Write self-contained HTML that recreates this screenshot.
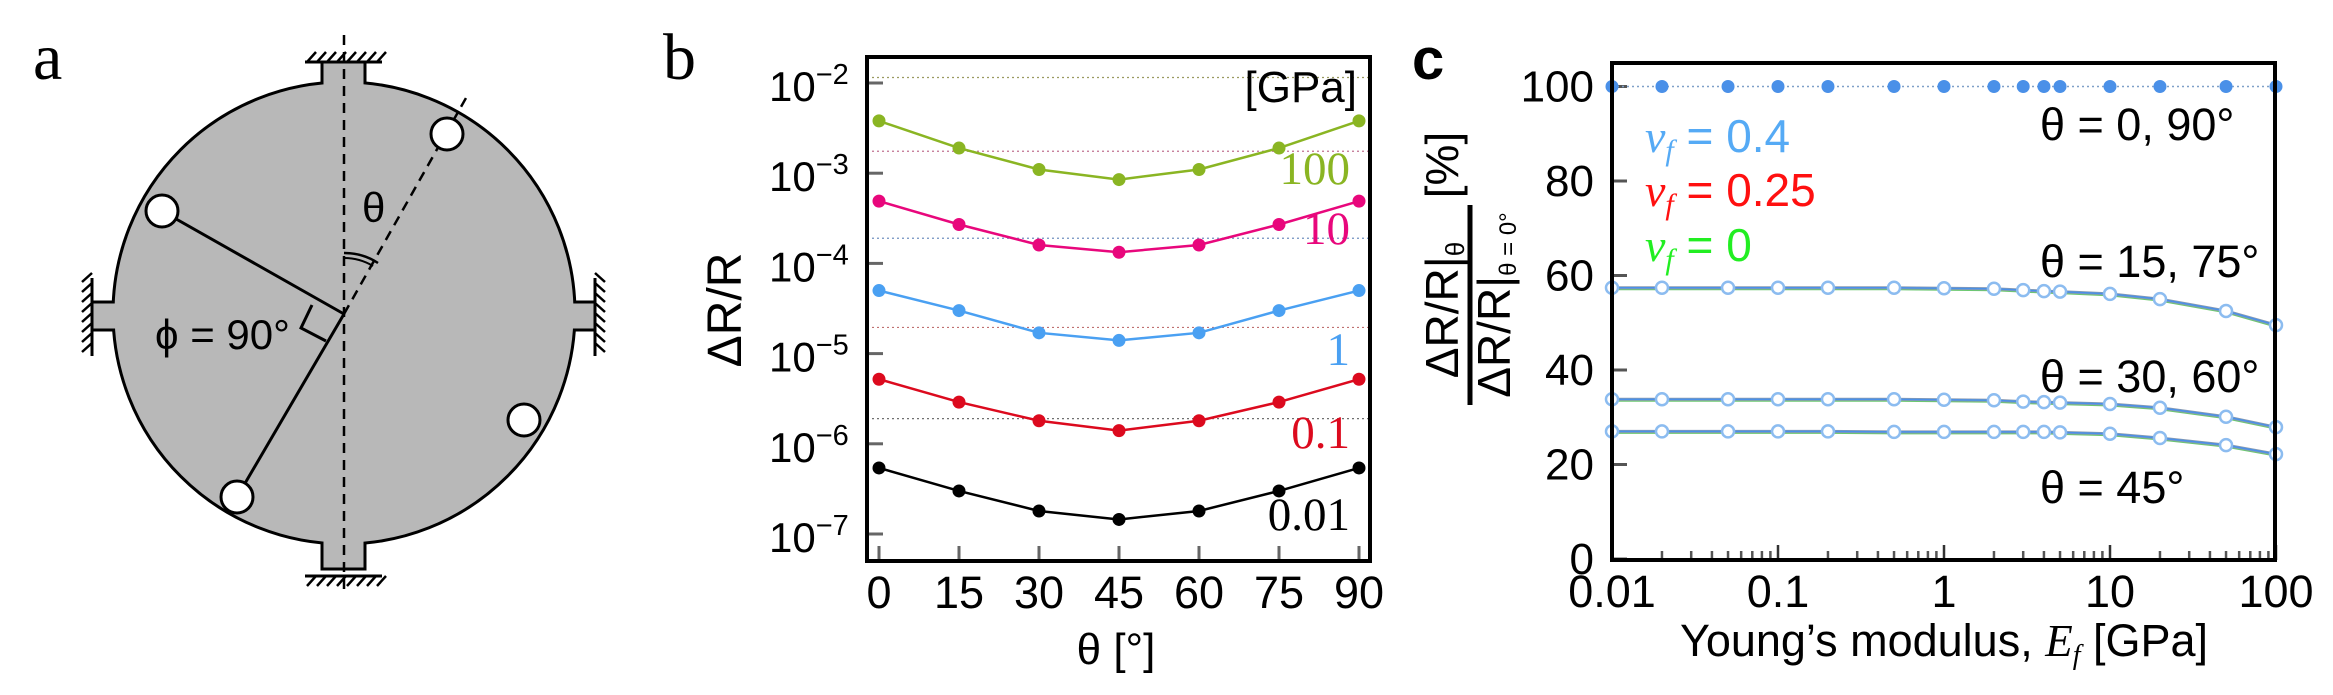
<!DOCTYPE html>
<html><head><meta charset="utf-8"><style>
html,body{margin:0;padding:0;background:#fff;}
svg{display:block;}
text{font-family:"Liberation Sans",sans-serif;}
.serif{font-family:"Liberation Serif",serif;}
</style></head><body>
<svg id="fig" width="2333" height="695" viewBox="0 0 2333 695" xmlns="http://www.w3.org/2000/svg">
<!-- Panel a -->
<g>
  <text x="33" y="79" class="serif" font-size="66">a</text>
  <rect x="322" y="62" width="43" height="40" fill="#b8b8b8" stroke="#000" stroke-width="3"/>
  <rect x="322" y="525" width="43" height="44" fill="#b8b8b8" stroke="#000" stroke-width="3"/>
  <rect x="92" y="302" width="40" height="28" fill="#b8b8b8" stroke="#000" stroke-width="3"/>
  <rect x="555" y="302" width="40" height="28" fill="#b8b8b8" stroke="#000" stroke-width="3"/>
  <circle cx="344" cy="313" r="231" fill="#b8b8b8" stroke="#000" stroke-width="3"/>
  <rect x="323.5" y="75" width="40" height="40" fill="#b8b8b8"/>
  <rect x="323.5" y="515" width="40" height="52.5" fill="#b8b8b8"/>
  <rect x="93.5" y="303.5" width="45" height="25" fill="#b8b8b8"/>
  <rect x="550" y="303.5" width="43.5" height="25" fill="#b8b8b8"/>
  <g id="hatches" stroke="#000" stroke-width="3"></g>
  <line x1="344" y1="35" x2="344" y2="595" stroke="#000" stroke-width="2.5" stroke-dasharray="10,7"/>
  <line x1="344" y1="314" x2="466" y2="98" stroke="#000" stroke-width="2.5" stroke-dasharray="10,7"/>
  <line x1="162" y1="211" x2="344" y2="314" stroke="#000" stroke-width="3"/>
  <line x1="237" y1="497" x2="344" y2="314" stroke="#000" stroke-width="3"/>
  <polyline points="312,305 301,328 326,341" fill="none" stroke="#000" stroke-width="3"/>
  <path d="M344,253 A61,61 0 0 1 378,263" fill="none" stroke="#000" stroke-width="2.5"/>
  <path d="M344,258 A56,56 0 0 1 373,266" fill="none" stroke="#000" stroke-width="2"/>
  <circle cx="162" cy="211" r="16" fill="#fff" stroke="#000" stroke-width="3"/>
  <circle cx="447" cy="134" r="16" fill="#fff" stroke="#000" stroke-width="3"/>
  <circle cx="237" cy="497" r="16" fill="#fff" stroke="#000" stroke-width="3"/>
  <circle cx="524" cy="420" r="16" fill="#fff" stroke="#000" stroke-width="3"/>
  <text x="362" y="222" font-size="42">θ</text>
  <text x="155" y="349" font-size="42">ϕ = 90°</text>
</g>
<!-- Panel b -->
<g id="pb">
  <text x="663" y="79" class="serif" font-size="66">b</text>
</g>
<!-- Panel c -->
<g id="pc">
  <text x="1412" y="79" font-size="58" font-weight="bold">c</text>
</g>
</svg>
<script>
var NS="http://www.w3.org/2000/svg";
// ---------- Panel b data ----------
var bAngles=[0,15,30,45,60,75,90];
var bYTicks=[-2,-3,-4,-5,-6,-7];
var bSeriesNames=["100","10","1","0.1","0.01"];
var bColors=["#8ab523","#e8077c","#4aa0f2","#dc0a1e","#000000"];
var b100=[3.8e-3,1.9e-3,1.1e-3,8.5e-4,1.1e-3,1.9e-3,3.8e-3];
var b10=[4.9e-4,2.7e-4,1.6e-4,1.33e-4,1.6e-4,2.7e-4,4.9e-4];
var b1=[5.0e-5,3.0e-5,1.7e-5,1.4e-5,1.7e-5,3.0e-5,5.0e-5];
var b01=[5.2e-6,2.9e-6,1.8e-6,1.4e-6,1.8e-6,2.9e-6,5.2e-6];
var b001=[5.4e-7,3.0e-7,1.8e-7,1.45e-7,1.8e-7,3.0e-7,5.4e-7];
var bGridLevels=[1.15e-2,1.75e-3,1.9e-4,1.95e-5,1.9e-6];
var bGridColors=["#9a9a60","#c07090","#7090c0","#c07070","#707070"];
// ---------- Panel c data ----------
var cE=[0.01,0.02,0.05,0.1,0.2,0.5,1,2,3,4,5,10,20,50,100];
var cXTicks=[0.01,0.1,1,10,100];
var cXTickLabels=["0.01","0.1","1","10","100"];
var cYTicks=[0,20,40,60,80,100];
var c0_90=[100,100,100,100,100,100,100,100,100,100,100,100,100,100,100];
var c15_75=[57.4,57.4,57.4,57.4,57.4,57.4,57.3,57.2,56.9,56.7,56.6,56.1,55.0,52.5,49.5];
var c30_60=[33.8,33.8,33.8,33.8,33.8,33.8,33.7,33.6,33.3,33.2,33.1,32.8,32.0,30.1,27.9];
var c45=[27.0,27.0,27.0,27.0,27.0,26.9,26.9,26.9,26.9,26.9,26.8,26.5,25.6,24.1,22.2];

function mk(parent,tag,attrs,txt){var e=document.createElementNS(NS,tag);for(var k in attrs)e.setAttribute(k,attrs[k]);if(txt!==undefined)e.textContent=txt;parent.appendChild(e);return e;}

// hatches panel a
var h=document.getElementById('hatches');
var hl;
hl=mk(h,'line',{x1:305,y1:62,x2:382,y2:62});
hl=mk(h,'line',{x1:305,y1:576,x2:382,y2:576});
hl=mk(h,'line',{x1:92,y1:278,x2:92,y2:356});
hl=mk(h,'line',{x1:595,y1:278,x2:595,y2:356});
mk(h,'line',{x1:323.5,y1:569,x2:363.5,y2:569,stroke:'#000'});
for(var i=0;i<8;i++){
  var x=307+i*10;
  mk(h,'line',{x1:x,y1:62,x2:x+9,y2:52,'stroke-width':2.5});
  mk(h,'line',{x1:x,y1:586,x2:x+9,y2:576,'stroke-width':2.5});
  var y=282+i*10;
  mk(h,'line',{x1:82,y1:y,x2:92,y2:y-9,'stroke-width':2.5});
  mk(h,'line',{x1:595,y1:y-9,x2:605,y2:y,'stroke-width':2.5});
}

// ---------- Panel b ----------
(function(){
  var g=document.getElementById('pb');
  var L=867,R=1370,T=57,B=561;
  function xs(a){return 879+(a-0)*(1359-879)/90;}
  function ys(v){return 83+(-2-Math.log10(v))*90.2;}
  bGridLevels.forEach(function(v,i){
    var l=mk(g,'line',{x1:L,x2:R,y1:ys(v),y2:ys(v),stroke:bGridColors[i],'stroke-width':1.2,'stroke-dasharray':'2,3'});
    
    
  });
  bYTicks.forEach(function(p){
    var y=83+(-2-p)*90.2;
    var t=mk(g,'line',{x1:L,x2:L+16,y1:y,y2:y,stroke:'#666','stroke-width':3});
    
    
    var tx=mk(g,'text',{x:769,y:y+18,'font-size':42});
    
    
    mk(tx,'tspan',{},'10');
    mk(tx,'tspan',{dy:-17,'font-size':29},'−'+(-p));
  });
  bAngles.forEach(function(a){
    var t=mk(g,'line',{x1:xs(a),x2:xs(a),y1:B,y2:B-15,stroke:'#666','stroke-width':3});
    
    
    var tx=mk(g,'text',{x:xs(a),y:608,'font-size':45,'text-anchor':'middle'},String(a));
    
    
  });
  var series=[b100,b10,b1,b01,b001];
  series.forEach(function(s,si){
    var pts=s.map(function(v,i){return xs(bAngles[i])+','+ys(v);}).join(' ');
    var pl=mk(g,'polyline',{points:pts,fill:'none',stroke:bColors[si],'stroke-width':2.5});
    
    
    s.forEach(function(v,i){
      var c=mk(g,'circle',{cx:xs(bAngles[i]),cy:ys(v),r:6.5,fill:bColors[si]});
      
      
    });
  });
  var lblY=[184,244,365,448,530];
  bSeriesNames.forEach(function(n,i){
    var t=mk(g,'text',{x:1350,y:lblY[i],'font-size':47,'text-anchor':'end',fill:bColors[i],'class':'serif'},n);
    
    
  });
  var u=mk(g,'text',{x:1357,y:102,'font-size':44,'text-anchor':'end'},'[GPa]');
  
  
  var fr=mk(g,'rect',{x:L,y:T,width:R-L,height:B-T,fill:'none',stroke:'#000','stroke-width':4});
  
  
  var yt=mk(g,'text',{x:0,y:0,'font-size':48,'text-anchor':'middle',transform:'translate(741,310) rotate(-90)'},'ΔR/R');
  
  
  var xt=mk(g,'text',{x:1116,y:664,'font-size':44,'text-anchor':'middle'},'θ [°]');
  
  
})();

// ---------- Panel c ----------
(function(){
  var g=document.getElementById('pc');
  var L=1612,R=2275,T=63,B=560;
  function xs(e){return L+(Math.log10(e)+2)*166;}
  function ys(v){return 559-v*4.725;}
  cYTicks.forEach(function(v){
    var t=mk(g,'line',{x1:L,x2:L+15,y1:ys(v),y2:ys(v),stroke:'#555','stroke-width':3});
    
    
    var tx=mk(g,'text',{x:1594,y:ys(v)+15,'font-size':44,'text-anchor':'end'},String(v));
    
    
  });
  for(var d=-2;d<2;d++){for(var m=2;m<10;m++){
    var x=xs(m*Math.pow(10,d));
    var t=mk(g,'line',{x1:x,x2:x,y1:B,y2:B-9,stroke:'#555','stroke-width':2.5});
    
    
  }}
  cXTicks.forEach(function(e,i){
    var t=mk(g,'line',{x1:xs(e),x2:xs(e),y1:B,y2:B-15,stroke:'#333','stroke-width':2.5});
    
    
    var tx=mk(g,'text',{x:xs(e),y:607,'font-size':45,'text-anchor':'middle'},cXTickLabels[i]);
    
    
  });
  var pts=c0_90.map(function(v,i){return xs(cE[i])+','+ys(v);}).join(' ');
  var pl=mk(g,'polyline',{points:pts,fill:'none',stroke:'#7fa0c8','stroke-width':1.5,'stroke-dasharray':'2,3'});
  
  
  c0_90.forEach(function(v,i){
    var c=mk(g,'circle',{cx:xs(cE[i]),cy:ys(v),r:6.5,fill:'#4a90e8'});
    
    
  });
  [c15_75,c30_60,c45].forEach(function(s,si){
    var nm=['c-line-theta-15-75','c-line-theta-30-60','c-line-theta-45'][si];
    var p=s.map(function(v,i){return xs(cE[i])+','+(ys(v)+1.5);}).join(' ');
    var gl=mk(g,'polyline',{points:p,fill:'none',stroke:'#6cc870','stroke-width':2});
    
    
    var p2=s.map(function(v,i){return xs(cE[i])+','+ys(v);}).join(' ');
    var gr=mk(g,'polyline',{points:p2,fill:'none',stroke:'#8a9ab0','stroke-width':3});
    
    
    var bl=mk(g,'polyline',{points:p2,fill:'none',stroke:'#4a90e8','stroke-width':1.5});
    
    
    s.forEach(function(v,i){
      var c=mk(g,'circle',{cx:xs(cE[i]),cy:ys(v),r:6,fill:'#fff',stroke:'#8cbcf0','stroke-width':2.5});
      
      
    });
  });
  var fr=mk(g,'rect',{x:L,y:T,width:R-L,height:B-T,fill:'none',stroke:'#000','stroke-width':4});
  
  
  var ann=[["θ = 0, 90°",140],["θ = 15, 75°",277],["θ = 30, 60°",392],["θ = 45°",503]];
  ann.forEach(function(a){
    var t=mk(g,'text',{x:2040,y:a[1],'font-size':45},a[0]);
    
    
  });
  var leg=[["0.4","#55aaf5",152],["0.25","#ff1010",206],["0","#22ee22",261]];
  leg.forEach(function(l){
    var t=mk(g,'text',{x:1645,y:l[2],'font-size':46,fill:l[1]});
    
    
    mk(t,'tspan',{'class':'serif','font-style':'italic'},'ν');
    mk(t,'tspan',{'class':'serif','font-style':'italic','font-size':30,dy:8},'f');
    mk(t,'tspan',{dy:-8},' = '+l[0]);
  });
  var xt=mk(g,'text',{x:1944,y:656,'font-size':45,'text-anchor':'middle'});
  
  
  mk(xt,'tspan',{},'Young’s modulus, ');
  mk(xt,'tspan',{'class':'serif','font-style':'italic'},'E');
  mk(xt,'tspan',{'class':'serif','font-style':'italic','font-size':28,dy:8},'f');
  mk(xt,'tspan',{dy:-8},' [GPa]');
  var yg=mk(g,'g',{transform:'translate(1470,305) rotate(-90)'});
  
  
  var num=mk(yg,'text',{x:-5,y:-12,'font-size':46,'text-anchor':'middle'});
  mk(num,'tspan',{},'ΔR/R|');
  mk(num,'tspan',{'font-size':26,dy:6},'θ');
  mk(yg,'line',{x1:-100,x2:100,y1:0,y2:0,stroke:'#000','stroke-width':5});
  var den=mk(yg,'text',{x:0,y:40,'font-size':46,'text-anchor':'middle'});
  mk(den,'tspan',{},'ΔR/R|');
  mk(den,'tspan',{'font-size':24,dy:6},'θ = 0°');
  mk(yg,'text',{x:140,y:-12,'font-size':46,'text-anchor':'middle'},'[%]');
})();
</script>
</body></html>
